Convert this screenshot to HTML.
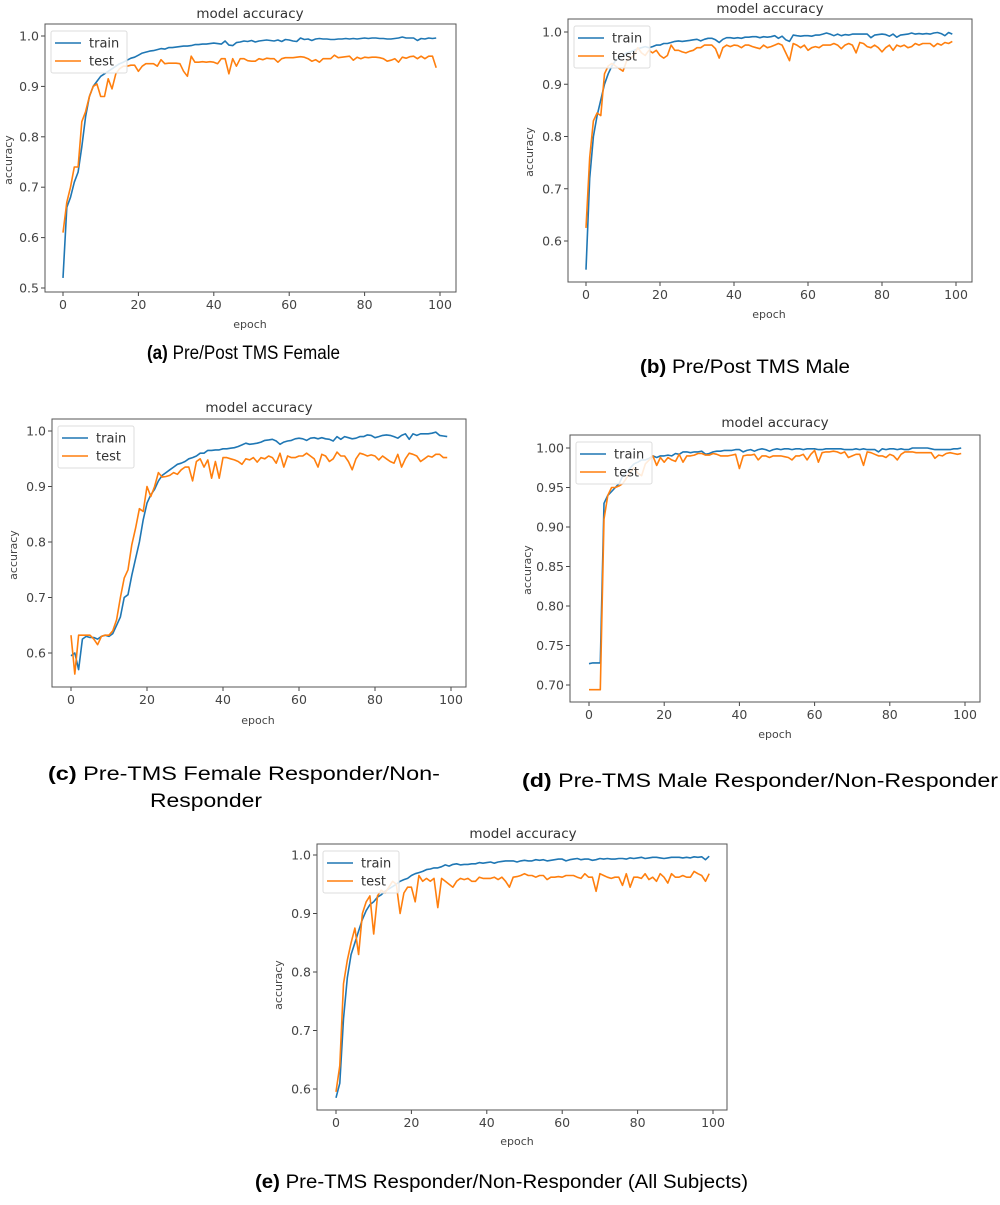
<!DOCTYPE html>
<html><head><meta charset="utf-8"><style>
html,body{margin:0;padding:0;background:#fff;}
svg text{font-family:"DejaVu Sans","Liberation Sans",sans-serif;}
.cap{font-family:"Liberation Sans",Arial,sans-serif;font-size:19px;fill:#000;}
</style></head><body>
<svg id="fig" width="1000" height="1200" viewBox="0 0 1000 1200" xmlns="http://www.w3.org/2000/svg">
<g><text class="cap" x="147" y="359" textLength="193" lengthAdjust="spacingAndGlyphs"><tspan font-weight="bold">(a)</tspan> Pre/Post TMS Female</text></g>
<g><text class="cap" x="640" y="373" textLength="210" lengthAdjust="spacingAndGlyphs"><tspan font-weight="bold">(b)</tspan>  Pre/Post TMS Male</text></g>
<g><text class="cap" x="48" y="780" textLength="392" lengthAdjust="spacingAndGlyphs"><tspan font-weight="bold">(c)</tspan> Pre-TMS Female Responder/Non-</text><text class="cap" x="150" y="807" textLength="112" lengthAdjust="spacingAndGlyphs">Responder</text></g>
<g><text class="cap" x="522" y="787" textLength="476" lengthAdjust="spacingAndGlyphs"><tspan font-weight="bold">(d)</tspan> Pre-TMS Male Responder/Non-Responder</text></g>
<g><text class="cap" x="255" y="1188" textLength="493" lengthAdjust="spacingAndGlyphs"><tspan font-weight="bold">(e)</tspan> Pre-TMS Responder/Non-Responder (All Subjects)</text></g>
</svg>
<script>
const xTicks = [0,20,40,60,80,100];
const aTrain = [.52,.66,.68,.71,.73,.78,.84,.88,.90,.91, .92,.925,.93,.935,.94,.945,.948,.952,.956,.958, .962,.966,.968,.970,.971,.973,.975,.974,.977,.977, .978,.979,.980,.980,.981,.983,.983,.984,.984,.985, .986,.985,.984,.990,.982,.981,.987,.988,.990,.989, .991,.988,.990,.991,.992,.991,.990,.992,.989,.993, .992,.990,.989,.996,.993,.994,.991,.994,.995,.994, .994,.993,.993,.994,.994,.995,.994,.995,.994,.995, .996,.995,.996,.996,.995,.995,.994,.994,.995,.996, .998,.996,.996,.996,.991,.995,.994,.996,.995,.996];
const aTest = [.61,.67,.70,.74,.74,.83,.85,.88,.90,.905, .88,.88,.915,.895,.925,.935,.94,.94,.942,.942, .93,.94,.945,.945,.945,.94,.953,.945,.946,.946, .946,.945,.93,.92,.96,.948,.948,.949,.948,.949, .948,.945,.955,.955,.925,.955,.94,.955,.955,.951, .950,.950,.955,.953,.956,.955,.955,.948,.955,.957, .957,.957,.958,.959,.958,.955,.950,.953,.948,.955, .955,.955,.962,.957,.958,.959,.960,.952,.958,.955, .958,.957,.958,.958,.957,.955,.950,.952,.955,.948, .958,.956,.959,.960,.955,.960,.955,.960,.960,.937];
const aYTicks = [0.5,0.6,0.7,0.8,0.9,1.0];
const bTrain = [.545,.72,.80,.84,.87,.90,.92,.935,.945,.95, .955,.96,.962,.965,.968,.970,.972,.970,.972,.975, .975,.978,.978,.980,.982,.983,.982,.983,.984,.985, .986,.983,.986,.988,.988,.985,.980,.986,.989,.989, .988,.989,.988,.990,.990,.991,.991,.989,.991,.990, .991,.993,.988,.992,.985,.982,.994,.993,.992,.993, .993,.992,.994,.994,.996,.998,.996,.993,.996,.993, .995,.994,.996,.996,.996,.996,.996,.989,.994,.995, .996,.995,.992,.996,.990,.994,.995,.996,.998,.996, .997,.996,.997,.996,.998,.999,.997,.993,.999,.996];
const bTest = [.625,.76,.83,.845,.84,.92,.935,.94,.935,.93, .925,.945,.95,.955,.97,.96,.955,.965,.96,.965, .955,.950,.955,.975,.965,.965,.962,.960,.963,.965, .970,.970,.975,.975,.975,.968,.950,.970,.975,.972, .975,.974,.970,.975,.975,.972,.970,.968,.975,.970, .972,.975,.978,.975,.960,.945,.978,.975,.970,.975, .965,.970,.972,.970,.975,.975,.975,.978,.975,.968, .975,.978,.975,.960,.980,.978,.972,.970,.975,.970, .962,.970,.975,.965,.975,.972,.975,.970,.972,.978, .975,.978,.978,.978,.972,.978,.975,.980,.978,.982];
const bYTicks = [0.6,0.7,0.8,0.9,1.0];
const cTrain = [.595,.600,.570,.625,.630,.628,.628,.625,.630,.632, .630,.635,.650,.665,.700,.705,.740,.770,.800,.840, .870,.885,.895,.910,.920,.925,.930,.935,.940,.942, .945,.950,.952,.955,.960,.960,.965,.965,.966,.966, .968,.968,.969,.970,.972,.975,.978,.976,.977,.978, .980,.983,.984,.985,.982,.976,.980,.982,.983,.986, .987,.986,.983,.987,.988,.986,.988,.986,.985,.982, .990,.985,.990,.988,.986,.987,.990,.990,.993,.992, .988,.990,.992,.993,.992,.990,.987,.992,.995,.985, .995,.992,.995,.995,.995,.996,.998,.992,.991,.990];
const cTest = [.632,.562,.632,.632,.632,.632,.625,.615,.630,.632, .632,.640,.660,.700,.735,.750,.795,.825,.860,.855, .900,.882,.900,.925,.917,.918,.920,.925,.922,.930, .935,.935,.910,.945,.950,.935,.948,.915,.945,.915, .952,.952,.950,.948,.945,.940,.950,.948,.952,.944, .952,.950,.955,.952,.942,.960,.935,.955,.952,.952, .955,.955,.960,.955,.950,.935,.958,.955,.945,.950, .962,.955,.955,.945,.930,.950,.960,.958,.955,.957, .955,.948,.955,.950,.945,.942,.958,.935,.950,.960, .958,.955,.945,.950,.955,.953,.958,.958,.952,.952];
const cYTicks = [0.6,0.7,0.8,0.9,1.0];
const dTrain = [.727,.728,.728,.728,.930,.940,.945,.950,.955,.965, .970,.975,.980,.982,.985,.985,.987,.990,.988,.990, .990,.991,.990,.993,.992,.995,.995,.994,.995,.995, .996,.992,.993,.995,.996,.996,.997,.997,.997,.998, .998,.995,.997,.998,.996,.998,.999,.998,.996,.998, .999,.998,.999,.999,.998,.999,.999,.998,.999,.999, .999,.998,.998,.999,.999,.999,.999,.999,.998,.998, .998,.999,.998,.999,.998,.998,.998,.995,.999,.998, .999,.999,.998,.999,.998,.998,1.000,1.000,1.000,1.000, 1.000,.999,.998,.998,.998,.998,.998,.999,.999,1.000];
const dTest = [.694,.694,.694,.694,.910,.940,.950,.950,.952,.955, .962,.970,.975,.968,.965,.980,.985,.990,.978,.988, .982,.988,.985,.983,.992,.982,.990,.990,.991,.993, .993,.991,.991,.993,.992,.990,.990,.990,.991,.992, .974,.990,.991,.991,.992,.985,.990,.990,.988,.990, .990,.990,.989,.988,.985,.990,.990,.992,.985,.992, .997,.982,.994,.995,.995,.996,.995,.993,.995,.988, .990,.992,.992,.978,.995,.994,.992,.990,.990,.988, .992,.990,.985,.992,.995,.995,.995,.994,.994,.994, .994,.994,.987,.991,.990,.993,.994,.993,.992,.993];
const dYTicks = [0.70,0.75,0.80,0.85,0.90,0.95,1.00];
const eTrain = [.585,.610,.720,.790,.830,.850,.870,.890,.905,.915, .920,.928,.932,.938,.942,.946,.950,.955,.958,.960, .965,.968,.970,.972,.975,.976,.978,.978,.980,.983, .981,.984,.985,.983,.984,.984,.985,.985,.987,.986, .987,.988,.986,.988,.989,.990,.990,.990,.988,.990, .991,.990,.990,.992,.991,.992,.990,.991,.992,.993, .993,.990,.992,.993,.994,.992,.993,.993,.991,.992, .994,.993,.994,.993,.993,.994,.994,.993,.995,.994, .995,.996,.994,.995,.996,.996,.995,.994,.995,.996, .996,.996,.995,.996,.995,.997,.996,.997,.992,.998];
const eTest = [.595,.640,.780,.820,.850,.875,.830,.900,.920,.930, .865,.930,.940,.935,.945,.955,.950,.900,.935,.945, .945,.920,.965,.955,.960,.955,.960,.910,.960,.955, .950,.945,.955,.960,.958,.960,.955,.955,.962,.960, .960,.960,.962,.958,.962,.955,.945,.962,.963,.965, .968,.965,.965,.962,.965,.965,.958,.962,.962,.963, .962,.965,.965,.965,.962,.960,.968,.962,.962,.938, .968,.965,.962,.960,.962,.962,.948,.968,.945,.962, .962,.960,.968,.958,.962,.955,.968,.962,.952,.968, .962,.962,.965,.962,.962,.972,.968,.965,.955,.968];
const eYTicks = [0.6,0.7,0.8,0.9,1.0];

const panels = [
 {id:'a',train:aTrain,test:aTest,yt:aYTicks,dec:1,box:[45,24,456,292],x0:63,x1:440,yv:[1.0,36,0.5,288],title:[250,18],xl:[250,328],yl:[12,160]},
 {id:'b',train:bTrain,test:bTest,yt:bYTicks,dec:1,box:[568,19,972,282],x0:586,x1:956,yv:[1.0,32,0.6,241],title:[770,13],xl:[769,318],yl:[533,152]},
 {id:'c',train:cTrain,test:cTest,yt:cYTicks,dec:1,box:[52,419,466,687],x0:71,x1:451,yv:[1.0,431,0.6,653],title:[259,412],xl:[258,724],yl:[17,555]},
 {id:'d',train:dTrain,test:dTest,yt:dYTicks,dec:2,box:[570,435,980,702],x0:589,x1:965,yv:[1.0,448,0.7,685],title:[775,427],xl:[775,738],yl:[531,570]},
 {id:'e',train:eTrain,test:eTest,yt:eYTicks,dec:1,box:[317,844,727,1110],x0:336,x1:713,yv:[1.0,855,0.6,1089],title:[523,838],xl:[517,1145],yl:[282,985]}
];
const NS='http://www.w3.org/2000/svg';
const svg=document.getElementById('fig');
function mk(tag,attrs,parent){const e=document.createElementNS(NS,tag);for(const k in attrs)e.setAttribute(k,attrs[k]);parent.appendChild(e);return e;}
panels.forEach(p=>{
  const g=mk('g',{},svg);
  
  
  const xs=v=>p.x0+(p.x1-p.x0)*v/100;
  const ys=v=>p.yv[1]+(p.yv[3]-p.yv[1])*(v-p.yv[0])/(p.yv[2]-p.yv[0]);
  const [L,T,R,B]=p.box;
  const t=mk('text',{x:p.title[0],y:p.title[1],'text-anchor':'middle','font-size':'13.5',fill:'#333'},g);t.textContent='model accuracy';
  
  
  const ax=mk('g',{},g);
  
  
  xTicks.forEach(v=>{const x=xs(v);mk('line',{x1:x,x2:x,y1:B,y2:B+4,stroke:'#444','stroke-width':1},ax);
    const tt=mk('text',{x:x,y:B+17,'text-anchor':'middle','font-size':'12.5',fill:'#444'},ax);tt.textContent=v;
    
    });
  const ay=mk('g',{},g);
  
  
  p.yt.forEach(v=>{const y=ys(v);mk('line',{x1:L-4,x2:L,y1:y,y2:y,stroke:'#444','stroke-width':1},ay);
    const tt=mk('text',{x:L-6,y:y+4.5,'text-anchor':'end','font-size':'12.5',fill:'#444'},ay);tt.textContent=v.toFixed(p.dec);
    
    });
  const xl=mk('text',{x:p.xl[0],y:p.xl[1],'text-anchor':'middle','font-size':'11',fill:'#444'},g);xl.textContent='epoch';
  
  
  const yl=mk('text',{x:p.yl[0],y:p.yl[1],'text-anchor':'middle','font-size':'11',fill:'#444',transform:'rotate(-90 '+p.yl[0]+' '+p.yl[1]+')'},g);yl.textContent='accuracy';
  
  
  [['train',p.train,'#1f77b4'],['test',p.test,'#ff7f0e']].forEach(([n,arr,c])=>{
    const d=arr.map((v,i)=>(i?'L':'M')+xs(i).toFixed(1)+' '+ys(v).toFixed(1)).join('');
    const pl=mk('path',{d:d,fill:'none',stroke:c,'stroke-width':1.6,'stroke-linejoin':'round'},g);
    
    
  });
  mk('rect',{x:L,y:T,width:R-L,height:B-T,fill:'none',stroke:'#555','stroke-width':1},g);
  const lg=mk('g',{},g);
  
  
  const lx=L+6,ly=T+7;
  mk('rect',{x:lx,y:ly,width:76,height:42,rx:2,fill:'#fff','fill-opacity':0.85,stroke:'#ddd'},lg);
  [['train','#1f77b4',0],['test','#ff7f0e',18]].forEach(([n,c,o])=>{
    const e=mk('g',{},lg);
    
    
    mk('line',{x1:lx+4,x2:lx+30,y1:ly+12+o,y2:ly+12+o,stroke:c,'stroke-width':1.6},e);
    const tt=mk('text',{x:lx+38,y:ly+16.5+o,'font-size':'13',fill:'#333'},e);tt.textContent=n;
  });
});
</script>
</body></html>
